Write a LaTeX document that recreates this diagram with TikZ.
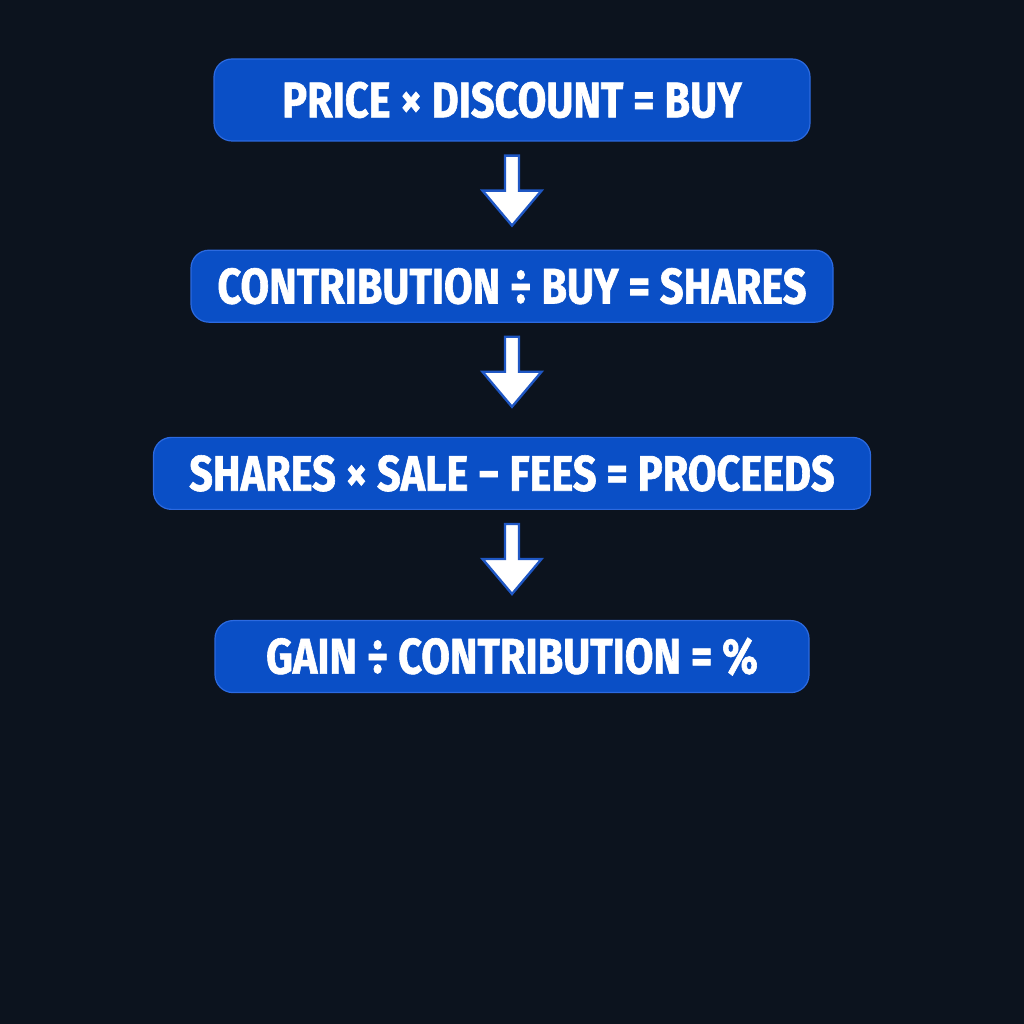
\documentclass[tikz,border=0pt]{standalone}
\usepackage{fontspec}
\usepackage{tikz}
\usetikzlibrary{positioning,calc}
\newfontfamily\boxfont[FakeStretch=0.83, FakeBold=1.2]{Fira Sans}
\definecolor{bgnavy}{HTML}{0C131E}
\definecolor{boxblue}{HTML}{0A4FC6}
\definecolor{edgeblue}{HTML}{2C6AE0}
\definecolor{arrowblue}{HTML}{1F57C4}
\newcommand{\flowarrow}[1]{%
  \draw[downarrow] ($(#1.south)+(-7,-14)$) -- ++(0,-35) -- ++(-22.5,0) -- ++(29.5,-35) -- ++(29.5,35) -- ++(-22.5,0) -- ++(0,35) -- cycle;}
\begin{document}
\begin{tikzpicture}[x=1pt, y=1pt, node distance=110pt,
  formula/.style={draw=edgeblue, line width=1.2pt, fill=boxblue, rounded corners=18pt, text=white, font=\boxfont\bfseries\fontsize{50}{50}\selectfont, minimum height=72pt, inner xsep=18pt},
  downarrow/.style={draw=arrowblue, line width=2.4pt, fill=white, line join=miter}]
  \fill[bgnavy] (0,0) rectangle (1024,1024);
  \useasboundingbox (0,0) rectangle (1024,1024);
  \node[formula, minimum height=82pt, minimum width=596pt] (buy) at (512,924) {PRICE × DISCOUNT = BUY};
  \node[formula, minimum width=642pt, below=108pt of buy] (shares) {CONTRIBUTION ÷ BUY = SHARES};
  \node[formula, minimum width=717pt, below=114pt of shares] (proceeds) {SHARES × SALE − FEES = PROCEEDS};
  \node[formula, minimum width=594pt, below=110pt of proceeds] (gain) {GAIN ÷ CONTRIBUTION = \%};
  % block arrows between the steps
  \flowarrow{buy}
  \flowarrow{shares}
  \flowarrow{proceeds}
\end{tikzpicture}
\end{document}
